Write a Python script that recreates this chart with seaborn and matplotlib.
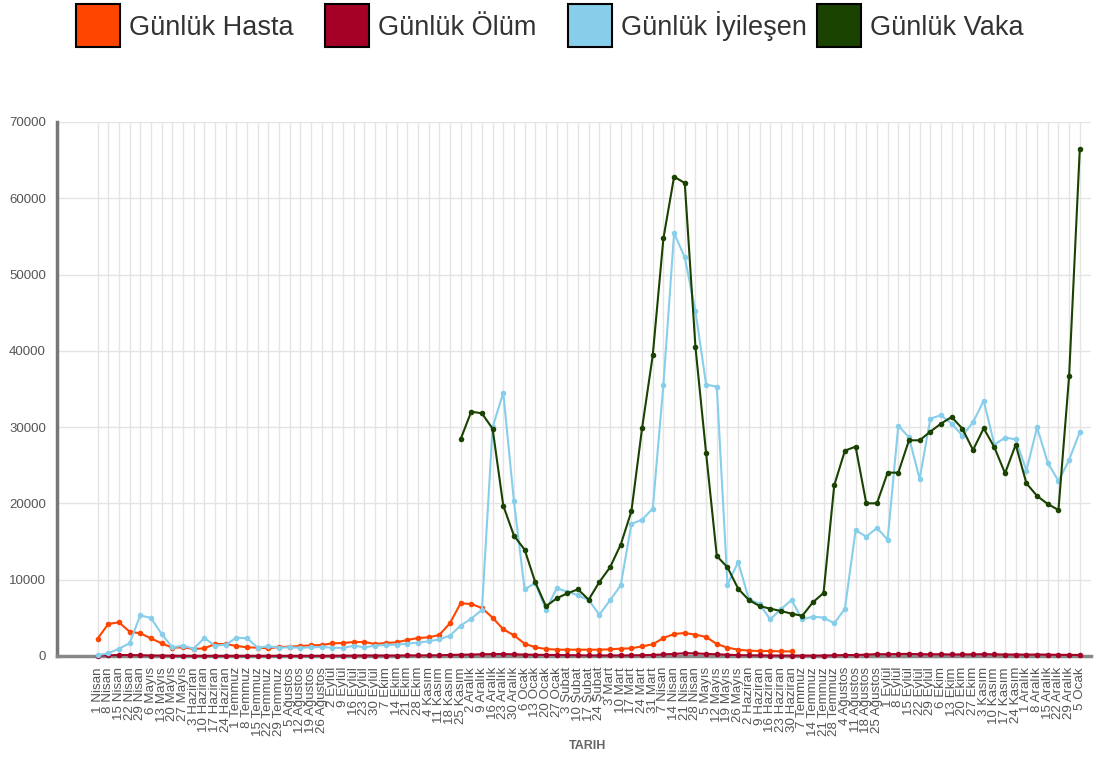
import numpy as np
import pandas as pd
import matplotlib
matplotlib.use('Agg')
import matplotlib.pyplot as plt
from matplotlib.patches import Rectangle
import seaborn as sns

# weekly labels, 1 Nisan 2020 .. 5 Ocak 2022
aylar = ['Ocak', 'Şubat', 'Mart', 'Nisan', 'Mayıs', 'Haziran', 'Temmuz',
         'Ağustos', 'Eylül', 'Ekim', 'Kasım', 'Aralık']
gunler = pd.date_range('2020-04-01', '2022-01-05', freq='7D')
tarih = [f'{d.day} {aylar[d.month - 1]}' for d in gunler]

# Günlük Hasta (reported until 30 Haziran 2021)
hasta = [2270, 4195, 4414, 3190, 2970, 2316, 1660, 1090, 1136, 918,
         1005, 1573, 1573, 1311, 1136, 1090, 1005, 1180, 1224, 1311,
         1398, 1442, 1660, 1704, 1835, 1835, 1573, 1704, 1790, 2100,
         2360, 2447, 2753, 4283, 6905, 6817, 6293, 5025, 3496, 2709,
         1617, 1136, 918, 830, 830, 830, 830, 830, 874, 961,
         1005, 1267, 1530, 2360, 2884, 3015, 2797, 2491, 1573, 1093,
         830, 700, 655, 655, 612, 612]

# Günlük Ölüm
olum = [63, 87, 125, 123, 98, 64, 55, 32, 23, 23,
        20, 20, 19, 20, 17, 18, 19, 20, 18, 20,
        21, 21, 28, 37, 48, 65, 64, 58, 60, 72,
        75, 77, 93, 141, 168, 187, 226, 246, 254, 218,
        185, 161, 144, 131, 106, 94, 67, 70, 68, 71,
        82, 106, 143, 204, 279, 362, 346, 278, 225, 169,
        108, 90, 72, 58, 50, 46, 54, 49, 58, 82,
        122, 129, 183, 244, 227, 265, 280, 232, 227, 228,
        198, 210, 215, 237, 215, 192, 195, 180, 193, 179,
        155, 147, 135]

# Günlük İyileşen
iyilesen = [100, 350, 960, 1660, 5330, 4980, 2884, 1136, 1355, 960,
            2360, 1355, 1486, 2400, 2316, 1090, 1267, 1090, 1136, 1090,
            1136, 1180, 1090, 1050, 1355, 1136, 1355, 1442, 1486, 1617,
            1748, 1923, 2185, 2666, 3977, 4894, 6030, 29980, 34523, 20277,
            8740, 9570, 6030, 8871, 8434, 7953, 7342, 5419, 7298, 9264,
            17305, 17873, 19315, 35572, 55445, 52260, 45220, 35572, 35310, 9350,
            12320, 7470, 6817, 4807, 6118, 7342, 4807, 5157, 5025, 4283,
            6205, 16475, 15645, 16781, 15251, 30197, 28667, 23205, 31114, 31551,
            30459, 28886, 30634, 33474, 27706, 28624, 28405, 24297, 29978, 25346,
            22943, 25696, 29366]

# Günlük Vaka (reported from 25 Kasım 2020)
vaka = [28400, 32030, 31810, 29800, 19710, 15776,
        13940, 9658, 6511, 7560, 8216, 8740, 7385, 9700, 11624, 14600,
        18966, 29847, 39400, 54750, 62830, 62000, 40500, 26570, 13110, 11624,
        8827, 7342, 6555, 6205, 5900, 5550, 5270, 7036, 8260, 22374,
        26919, 27444, 20015, 20015, 24035, 24035, 28274, 28274, 29410, 30459,
        31333, 29803, 27007, 29847, 27356, 23948, 27706, 22637, 20976, 19927,
        19141, 36700, 66460]

n = len(tarih)
df = pd.DataFrame({
    'idx': np.arange(n),
    'hasta': hasta + [np.nan] * (n - len(hasta)),
    'olum': olum,
    'iyilesen': iyilesen,
    'vaka': [np.nan] * (n - len(vaka)) + vaka,
})

seriler = [('hasta', 'Günlük Hasta', '#ff4500'),
           ('olum', 'Günlük Ölüm', '#a50026'),
           ('iyilesen', 'Günlük İyileşen', '#87ceeb'),
           ('vaka', 'Günlük Vaka', '#1a4200')]

sns.set_style('white')
plt.rcParams['font.family'] = ['Liberation Sans', 'DejaVu Sans']

W, H = 1119, 758
fig = plt.figure(figsize=(W / 100, H / 100), dpi=100)
ax = fig.add_axes([57 / W, 1 - 656 / H, (1091 - 57) / W, (656 - 122) / H])

for col, label, color in seriler:
    sns.lineplot(data=df, x='idx', y=col, ax=ax, color=color, marker='o',
                 markersize=4, markeredgewidth=0, linewidth=1.5,
                 clip_on=False, zorder=3)

ax.set_xlim(-3.8, 93.05)
ax.set_ylim(0, 70000)
ax.set_xticks(range(n))
ax.set_xticklabels(tarih, rotation=90, fontsize=9.6, color='#555555')
yt = list(range(0, 70001, 10000))
ax.set_yticks(yt)
ax.set_yticklabels([str(v) for v in yt], fontsize=9.5, color='#555555')
ax.set_ylabel('')
ax.set_xlabel('TARIH', fontsize=9, fontweight='bold', color='#666666')
ax.xaxis.set_label_coords((588 - 57) / (1091 - 57), (656 - 740) / (656 - 122))

ax.grid(True, color='#e4e4e4', linewidth=1)
ax.set_axisbelow(True)
for s in ['top', 'right']:
    ax.spines[s].set_visible(False)
ax.spines['left'].set_color('#777777')
ax.spines['left'].set_linewidth(2.5)
ax.spines['bottom'].set_color('#888888')
ax.spines['bottom'].set_linewidth(2.5)
ax.tick_params(axis='y', length=6, width=2, color='#777777', pad=2)
ax.tick_params(axis='x', length=6, width=1, color='#999999', pad=2)

# legend on top
leg_x = [76, 325, 568, 817]
for (col, label, color), x0 in zip(seriler, leg_x):
    fig.patches.append(Rectangle((x0 / W, 1 - 47 / H), 44 / W, 43 / H,
                                 transform=fig.transFigure, facecolor=color,
                                 edgecolor='black', linewidth=1.5))
    fig.text((x0 + 53) / W, 1 - 35 / H, label, fontsize=19.5,
             va='baseline', ha='left', color='#333333')

fig.savefig('out.png', dpi=100)
